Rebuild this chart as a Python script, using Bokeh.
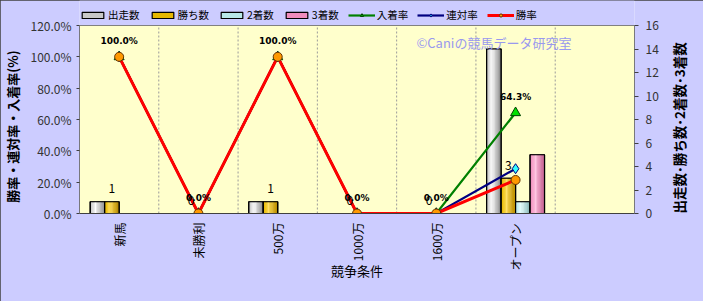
import math
from bokeh.plotting import figure
from bokeh.models import (Range1d, LinearAxis, FixedTicker, PrintfTickFormatter,
                          Legend, LegendItem, Label, ColumnDataSource)
from bokeh.core.properties import value
from bokeh.embed import file_html
from bokeh.resources import INLINE

# ---------------- data ----------------
categories = ["新馬", "未勝利", "500万", "1000万", "1600万", "オープン"]
n_slots = 7
starts = [1, 0, 1, 0, 0, 14]
wins = [1, 0, 1, 0, 0, 3]
seconds = [0, 0, 0, 0, 0, 1]
thirds = [0, 0, 0, 0, 0, 5]
win_rate = [100.0, 0.0, 100.0, 0.0, 0.0, 21.4]
rentai_rate = [100.0, 0.0, 100.0, 0.0, 0.0, 28.6]
place_rate = [100.0, 0.0, 100.0, 0.0, 0.0, 64.3]
pct_ticks = [0, 20, 40, 60, 80, 100, 120]
count_ticks = [0, 2, 4, 6, 8, 10, 12, 14, 16]
bar_names = ["出走数", "勝ち数", "2着数", "3着数"]
line_names = ["入着率", "連対率", "勝率"]

FONT = "Noto Sans CJK JP"

# frame spans from the canvas top to the x axis; plot area is the top 188 px of 213
FRAME_H, AREA_H = 213, 188
pct_max = pct_ticks[-1]
cnt_max = count_ticks[-1]
pct_top = pct_max * FRAME_H / AREA_H
cnt_top = cnt_max * FRAME_H / AREA_H

p = figure(width=703, height=301, output_backend="svg", toolbar_location=None,
           x_range=Range1d(0, n_slots), y_range=Range1d(0, pct_top),
           min_border_left=77, min_border_right=69, min_border_top=0, min_border_bottom=88,
           background_fill_color="#ccccff", border_fill_color="#ccccff")
p.extra_y_ranges = {"cnt": Range1d(0, cnt_top)}
p.outline_line_color = None

# plot area background
p.quad(left=0, right=n_slots, bottom=0, top=pct_max, fill_color="#ffffcc",
       line_color="#808080", line_width=1)

# grids
p.xgrid.visible = False
p.ygrid.ticker = FixedTicker(ticks=pct_ticks[1:-1])
p.ygrid.grid_line_color = "#9a9a9a"
p.ygrid.grid_line_dash = "2 2"
bounds = list(range(1, n_slots))
p.segment(x0=bounds, y0=[0] * len(bounds), x1=bounds, y1=[pct_max] * len(bounds),
          line_color="#9a9a9a", line_dash="2 2", line_width=1)

# x axis
xa = p.xaxis[0]
centers = [i + 0.5 for i in range(len(categories))]
xa.ticker = FixedTicker(ticks=centers)
xa.major_label_overrides = {c: name for c, name in zip(centers, categories)}
xa.major_label_orientation = math.pi / 2
xa.major_tick_out = 0
xa.major_tick_in = 0
xa.minor_tick_line_color = None
xa.major_label_standoff = 9
xa.axis_line_color = "#404040"
xa.major_label_text_font = FONT
xa.major_label_text_font_size = "12px"
xa.major_label_text_color = "#000000"
xa.axis_label = "競争条件"
xa.axis_label_standoff = -13
xa.axis_label_text_font = FONT
xa.axis_label_text_font_size = "13px"
xa.axis_label_text_font_style = "normal"
xa.axis_label_text_color = "#000000"

# left axis
ya = p.yaxis[0]
ya.ticker = FixedTicker(ticks=pct_ticks)
ya.formatter = PrintfTickFormatter(format="%.1f%%")
ya.major_tick_out = 3
ya.major_tick_in = 0
ya.minor_tick_line_color = None
ya.major_label_standoff = 5
ya.axis_line_color = None
ya.major_tick_line_color = "#404040"
ya.major_label_text_font = FONT
ya.major_label_text_font_size = "12px"
ya.major_label_text_color = "#333333"
# trailing ideographic spaces shift the centred title down onto the plot area
ya.axis_label = "勝率・連対率・入着率(%)\u3000\u3000\u3000"
ya.axis_label_standoff = 5
ya.axis_label_text_font = FONT
ya.axis_label_text_font_size = "13px"
ya.axis_label_text_font_style = "bold"
ya.axis_label_text_color = "#000000"

# right axis
ra = LinearAxis(y_range_name="cnt", ticker=FixedTicker(ticks=count_ticks))
ra.major_tick_out = 4
ra.major_tick_in = 0
ra.minor_tick_line_color = None
ra.major_label_standoff = 7
ra.axis_line_color = None
ra.major_tick_line_color = "#404040"
ra.major_label_text_font = FONT
ra.major_label_text_font_size = "12px"
ra.major_label_text_color = "#333333"
ra.axis_label = "出走数･勝ち数･2着数･3着数"
ra.axis_label_standoff = 17
ra.axis_label_text_font = FONT
ra.axis_label_text_font_size = "13.5px"
ra.axis_label_text_font_style = "bold"
ra.axis_label_text_color = "#000000"
if hasattr(ra, "axis_label_orientation"):
    ra.axis_label_orientation = math.pi / 2
if hasattr(ra, "axis_label_align"):
    ra.axis_label_align = "start"
p.add_layout(ra, "right")

# axis lines of the plot area
p.segment(x0=[0, n_slots], y0=[0, 0], x1=[0, n_slots], y1=[pct_max, pct_max],
          line_color="#404040", line_width=1)

# ---------------- bars ----------------
bw = 0.1825
bar_series = [starts, wins, seconds, thirds]
bar_cols = [
    ("#c8c8c8", "#ffffff", "#8c8c8c"),
    ("#e6b800", "#ffe066", "#b38600"),
    ("#b8e8e8", "#eaffff", "#88b8b8"),
    ("#f08cbc", "#ffc8e2", "#c05c8c"),
]


def mix(c1, c2, t):
    a = [int(c1[i:i + 2], 16) for i in (1, 3, 5)]
    b = [int(c2[i:i + 2], 16) for i in (1, 3, 5)]
    return "#%02x%02x%02x" % tuple(round(a[k] + (b[k] - a[k]) * t) for k in range(3))


n_strips = 10
bar_renderers = []
for s, (vals, (base, hi, dark)) in enumerate(zip(bar_series, bar_cols)):
    off = (s - 1.5) * bw
    xs = [c + off for c in centers]
    r = p.vbar(x=xs, top=vals, bottom=0, width=bw, y_range_name="cnt",
               fill_color=base, line_color="#000000", line_width=1.2)
    bar_renderers.append(r)
    sw = (bw - 0.02) / n_strips
    for k in range(n_strips):
        t = (k + 0.5) / n_strips
        if t < 0.35:
            col = mix(base, hi, t / 0.35)
        else:
            col = mix(hi, dark, (t - 0.35) / 0.65)
        sx = [x - bw / 2 + 0.01 + sw * (k + 0.5) for x in xs]
        p.vbar(x=sx, top=vals, bottom=0, width=sw * 1.05, y_range_name="cnt",
               fill_color=col, line_color=None)
    p.vbar(x=xs, top=vals, bottom=0, width=bw, y_range_name="cnt",
           fill_alpha=0, line_color="#000000", line_width=1.2)

# ---------------- lines ----------------
lg = p.line(centers, place_rate, line_color="#008000", line_width=2.2)
lgm = p.scatter(centers, place_rate, marker="triangle", size=10,
                fill_color="#00e000", line_color="#004000", line_width=1)
ln = p.line(centers, rentai_rate, line_color="#000080", line_width=2.2)
lnm = p.scatter(centers, rentai_rate, marker="diamond", size=10,
                fill_color="#33ffff", line_color="#000080", line_width=1)
lr = p.line(centers, win_rate, line_color="#ff0000", line_width=3)
lrm = p.scatter(centers, win_rate, marker="circle", size=9,
                fill_color="#ff9900", line_color="#663300", line_width=1)

# value labels
pct_src = ColumnDataSource(dict(x=centers, y=place_rate,
                                t=["%.1f%%" % v for v in place_rate]))
p.text(x="x", y="y", text="t", source=pct_src, y_offset=-16,
       text_align="center", text_baseline="middle",
       text_font=value("DejaVu Sans"), text_font_size="9px", text_font_style="bold",
       text_color="#000000")
win_src = ColumnDataSource(dict(x=[c - 0.5 * bw for c in centers], y=wins,
                                t=[str(v) for v in wins]))
p.text(x="x", y="y", text="t", source=win_src, y_offset=-13, y_range_name="cnt",
       text_align="center", text_baseline="middle",
       text_font=value(FONT), text_font_size="12px", text_color="#000000")

# legend (inside the frame, above the plot area)
items = [LegendItem(label=n, renderers=[r]) for n, r in zip(bar_names, bar_renderers)]
items += [LegendItem(label=line_names[0], renderers=[lg, lgm]),
          LegendItem(label=line_names[1], renderers=[ln, lnm]),
          LegendItem(label=line_names[2], renderers=[lr, lrm])]
leg = Legend(items=items, orientation="horizontal", location=(0, 191),
             padding=0, margin=0, spacing=9, glyph_width=27, glyph_height=8,
             label_standoff=2, label_height=14, label_text_font=FONT,
             label_text_font_size="10.5px", label_text_color="#000000",
             border_line_color=None, background_fill_alpha=0)
p.add_layout(leg)

# watermark
p.add_layout(Label(x=4.25, y=109.2, text="©Caniの競馬データ研究室", text_align="left",
                   text_baseline="middle", text_font=FONT, text_font_size="13px",
                   text_color="#9999ee"))

p.styles = {"outline": "1px solid #404040", "outline-offset": "-1px"}

open("out.html", "w").write(file_html(p, INLINE))
